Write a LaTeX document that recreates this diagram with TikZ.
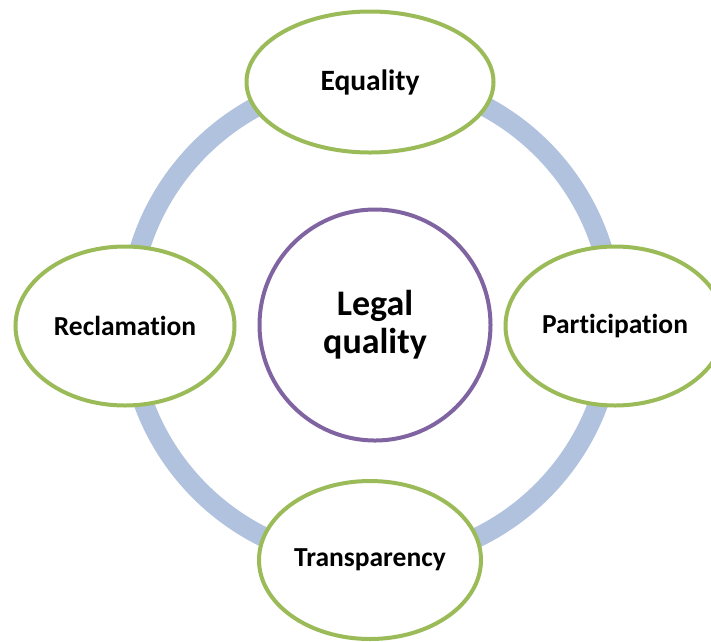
\documentclass[tikz,border=0pt]{standalone}
\usepackage{fontspec}
\setmainfont{Carlito}[Ligatures=NoCommon]
\usetikzlibrary{positioning}
\usetikzlibrary{shapes.geometric}
\definecolor{ringblue}{HTML}{B0C2DE}
\definecolor{leafgreen}{HTML}{9BBB59}
\definecolor{hubpurple}{HTML}{8064A2}

\begin{document}
\begin{tikzpicture}[x=1pt, y=-1pt,
    leaf/.style={ellipse, draw=leafgreen, line width=4pt, fill=white, inner sep=0pt,
      font=\fontsize{27.5}{32}\selectfont\bfseries},
    hub/.style={circle, draw=hubpurple, line width=4pt, fill=white, inner sep=0pt,
      minimum size=231pt, align=center, font=\fontsize{36}{38}\selectfont\bfseries}]
      \useasboundingbox (0,0) rectangle (711,641);
      \coordinate (O) at (371,320);
      \draw[ringblue, line width=20pt] (O) circle [radius=242pt];

      \node[hub] (legal) at (375,325) {Legal\\quality};

      \node[leaf, minimum width=247pt, minimum height=141pt,
        font=\fontsize{29.5}{34}\selectfont\bfseries] (equality) at (370,82) {Equality};
      \node[leaf, minimum width=219pt, minimum height=159pt] (reclamation) at (125,326) {Reclamation};
      \node[leaf, minimum width=219pt, minimum height=159pt] (participation) at (615,326) {Participation};
      \node[leaf, minimum width=222pt, minimum height=158pt] (transparency) at (370,560) {Transparency};
    \end{tikzpicture}
\end{document}
